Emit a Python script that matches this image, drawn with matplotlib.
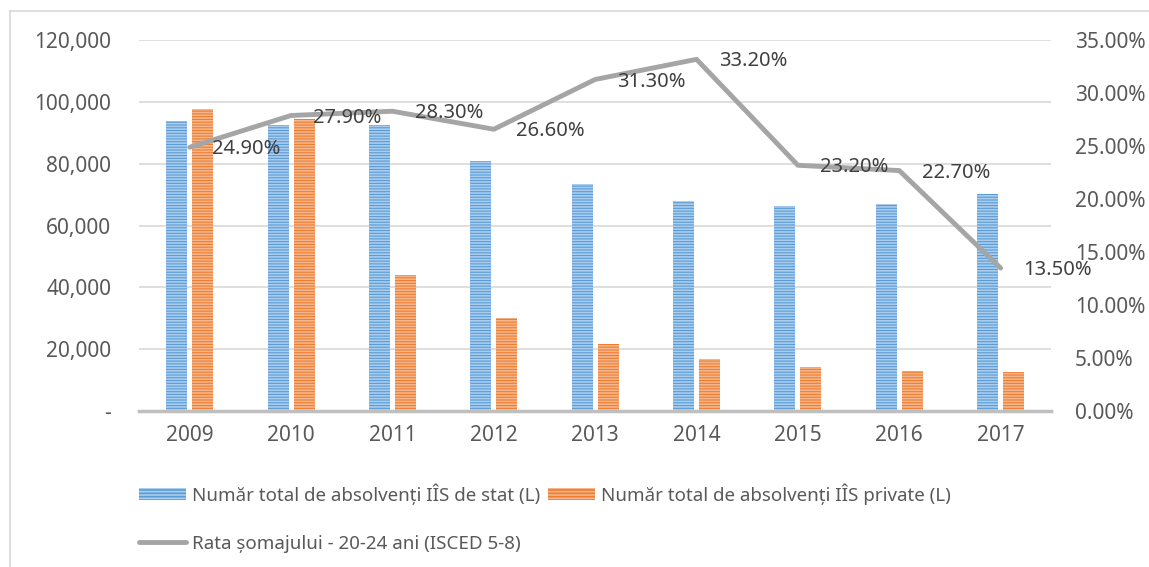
import matplotlib
matplotlib.use("Agg")
import matplotlib.pyplot as plt
from matplotlib.patches import Patch
from matplotlib.lines import Line2D
from matplotlib.ticker import FuncFormatter
import numpy as np

plt.rcParams['font.family'] = ['Noto Sans', 'DejaVu Sans']
plt.rcParams['hatch.linewidth'] = 1.2

# data
years = ['2009', '2010', '2011', '2012', '2013', '2014', '2015', '2016', '2017']
stat = [93800, 92500, 92500, 81000, 73400, 68000, 66400, 66850, 70100]
privat = [97600, 94500, 44000, 30000, 21700, 16800, 14200, 12900, 12600]
somaj = [24.9, 27.9, 28.3, 26.6, 31.3, 33.2, 23.2, 22.7, 13.5]

lbl_stat = "Număr total de absolvenți IÎS de stat (L)"
lbl_priv = "Număr total de absolvenți IÎS private (L)"
lbl_somaj = "Rata șomajului - 20-24 ani (ISCED 5-8)"

blue = '#5B9BD5'
blue_h = '#A9CDEE'
orange = '#ED7D31'
orange_h = '#F6B58A'
gray = '#A5A5A5'
txt = '#595959'

fig = plt.figure(figsize=(11.49, 5.67), dpi=100)
ax = fig.add_axes([0.121, 0.275, 0.794, 0.654])
ax2 = ax.twinx()

x = np.arange(len(years))
w = 0.207
off = 0.128
ax.bar(x - off, stat, w, color=blue, edgecolor=blue_h, hatch='------', linewidth=0, zorder=2)
ax.bar(x + off, privat, w, color=orange, edgecolor=orange_h, hatch='------', linewidth=0, zorder=2)

ax.set_xlim(-0.5, len(years) - 0.5)
ax.set_ylim(0, 120000)
ax.set_yticks(range(0, 120001, 20000))
ax.yaxis.set_major_formatter(FuncFormatter(lambda v, p: '-' if v == 0 else f'{int(v):,}'))
ax.grid(axis='y', color='#D9D9D9', linewidth=1.2, zorder=0)
ax.set_axisbelow(True)
ax.set_xticks(x)
ax.set_xticklabels(years)

ax2.plot(x, somaj, color=gray, linewidth=3.5, solid_capstyle='round', zorder=3)
ax2.set_ylim(0, 35)
ax2.set_yticks(range(0, 36, 5))
ax2.yaxis.set_major_formatter(FuncFormatter(lambda v, p: f'{v:.2f}%'))
for xi, v in zip(x, somaj):
    ax2.annotate(f'{v:.2f}%', (xi, v), xytext=(16, -1.5), textcoords='offset points',
                 ha='left', va='center', fontsize=14.5, color='#404040')

for a in (ax, ax2):
    for s in a.spines.values():
        s.set_visible(False)
    a.tick_params(length=0, labelsize=15, colors=txt)
ax.tick_params(axis='y', pad=20)
ax2.tick_params(axis='y', pad=17)
ax.tick_params(axis='x', pad=10)
ax.axhline(0, color='#BFBFBF', linewidth=2.5, zorder=4, clip_on=False)

handles = [
    Patch(facecolor=blue, edgecolor=blue_h, hatch='-----', linewidth=0),
    Line2D([0], [0], color=gray, linewidth=3.5, solid_capstyle='round'),
    Patch(facecolor=orange, edgecolor=orange_h, hatch='-----', linewidth=0),
]
fig.legend(handles, [lbl_stat, lbl_somaj, lbl_priv], ncol=2, frameon=False,
           loc='upper left', bbox_to_anchor=(0.121, 0.148), bbox_transform=fig.transFigure,
           fontsize=13.5, labelcolor=txt, handlelength=2.5, handleheight=0.55,
           handletextpad=0.3, columnspacing=0.45, labelspacing=1.6,
           borderaxespad=0, borderpad=0)

# chart area border (top and left visible)
fig.add_artist(Line2D([10 / 1149, 1], [1 - 11 / 567, 1 - 11 / 567], color='#D9D9D9', linewidth=1.2))
fig.add_artist(Line2D([10 / 1149, 10 / 1149], [0, 1 - 11 / 567], color='#D9D9D9', linewidth=1.2))

fig.savefig('out.png', dpi=100)
